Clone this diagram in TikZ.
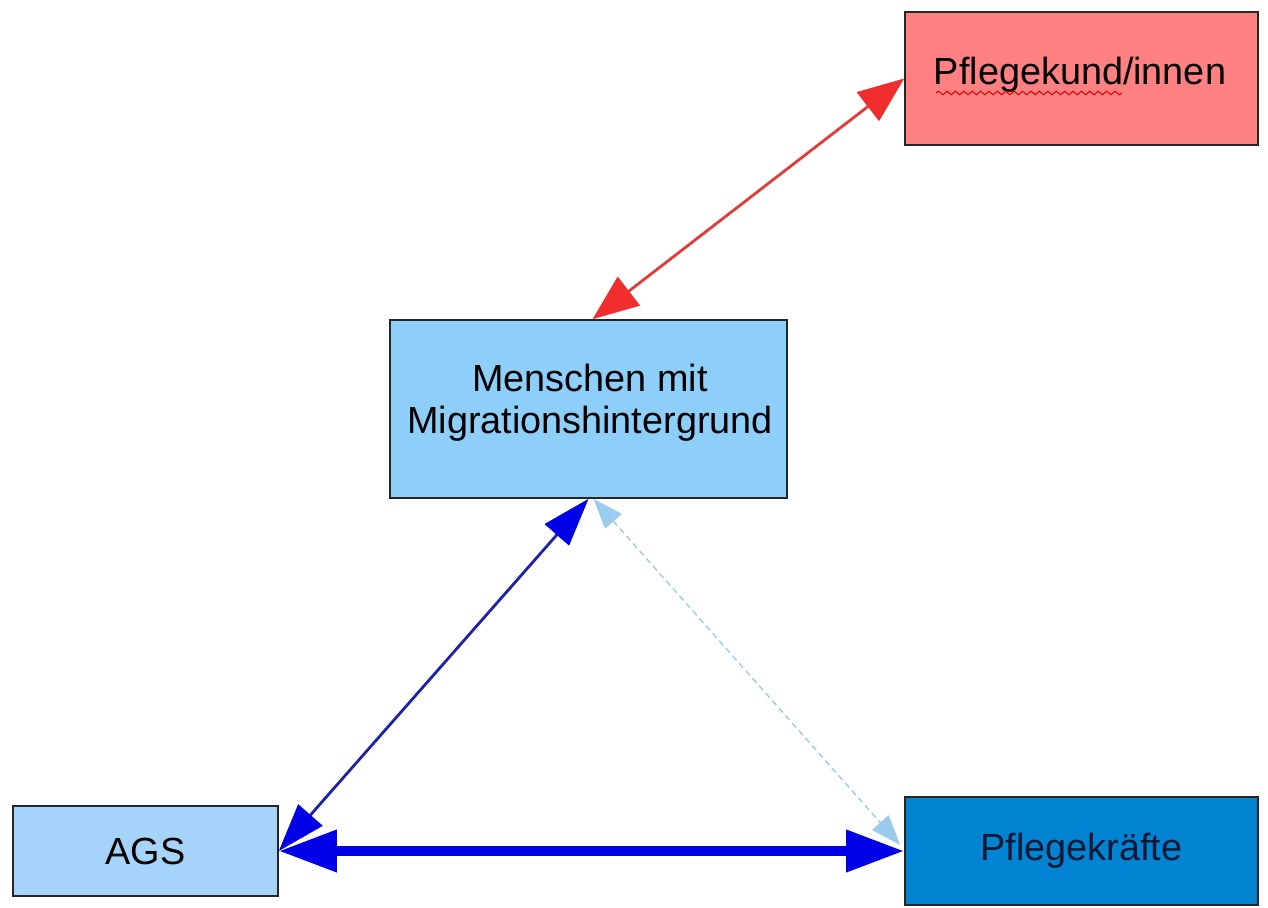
\documentclass[tikz,border=0pt]{standalone}
\usepackage{fontspec}
\setmainfont{Liberation Sans}
\usetikzlibrary{arrows.meta,decorations.pathmorphing}
\definecolor{pinkfill}{HTML}{FF8080}
\definecolor{menfill}{HTML}{8ECFFA}
\definecolor{agsfill}{HTML}{A6D3FA}
\definecolor{pkfill}{HTML}{0084D1}
\definecolor{redline}{HTML}{E33A3A}
\definecolor{redhead}{HTML}{F02E2E}
\definecolor{navyline}{HTML}{1E22A6}
\definecolor{bluehead}{HTML}{0000E6}
\definecolor{lightline}{HTML}{99CCEE}
\definecolor{pktext}{HTML}{0A1838}
\tikzset{
  box/.style={draw=black!85, line width=0.8pt, rectangle, inner sep=0pt, align=center,
    font=\fontsize{18.9}{21}\selectfont},
  boxtext/.style={inner sep=0pt, align=center, font=\fontsize{18.9}{21}\selectfont},
  redarrow/.style={draw=redline, line width=1.4pt,
    {Triangle[length=23pt,width=18pt,fill=redhead,color=redhead]}-{Triangle[length=23pt,width=18pt,fill=redhead,color=redhead]}},
  navyarrow/.style={draw=navyline, line width=1.4pt,
    {Triangle[length=24pt,width=16pt,fill=bluehead,color=bluehead]}-{Triangle[length=24pt,width=16pt,fill=bluehead,color=bluehead]}},
  thickarrow/.style={draw=bluehead, line width=5pt,
    {Triangle[length=29pt,width=20pt]}-{Triangle[length=29pt,width=20pt]}},
  lightarrow/.style={draw=lightline, line width=0.7pt, dash pattern=on 3pt off 2pt,
    {Triangle[length=15pt,width=11pt,fill=lightline,color=lightline]}-{Triangle[length=15pt,width=11pt,fill=lightline,color=lightline]}},
  spell/.style={draw=red!85!black, line width=0.5pt, decorate,
    decoration={snake, amplitude=0.9pt, segment length=4.2pt}}
}
\begin{document}
\begin{tikzpicture}[x=0.5pt,y=-0.5pt]
\useasboundingbox[fill=white] (0,0) rectangle (1268,907);
\node[box, fill=pinkfill, minimum width=176.5pt, minimum height=66.5pt] (P) at (1081.5,78.5) {};
\node[boxtext] (Pt) at (1080,75) {Pflegekund/innen};
\node[box, fill=menfill, minimum width=198.5pt, minimum height=89pt] (M) at (588.5,409) {};
\node[boxtext] (Mt) at (590,403) {Menschen mit\\Migrationshintergrund};
\node[box, fill=agsfill, minimum width=132.5pt, minimum height=45pt] (A) at (145.5,851) {AGS};
\node[box, fill=pkfill, text=pktext, minimum width=176.5pt, minimum height=54pt] (K) at (1081.5,851) {Pflegekräfte};
\coordinate (spellA) at (936,93);
\coordinate (spellB) at (1122,93);
\draw[spell] (spellA) -- (spellB);
\draw[redarrow] ([xshift=2pt]M.north) -- (P.west);
\draw[navyarrow] (M.south) -- (A.east);
\draw[thickarrow] (A.east) -- (K.west);
\draw[lightarrow] ([xshift=2.5pt]M.south) -- ([xshift=-2pt,yshift=3pt]K.west);
\end{tikzpicture}
\end{document}
